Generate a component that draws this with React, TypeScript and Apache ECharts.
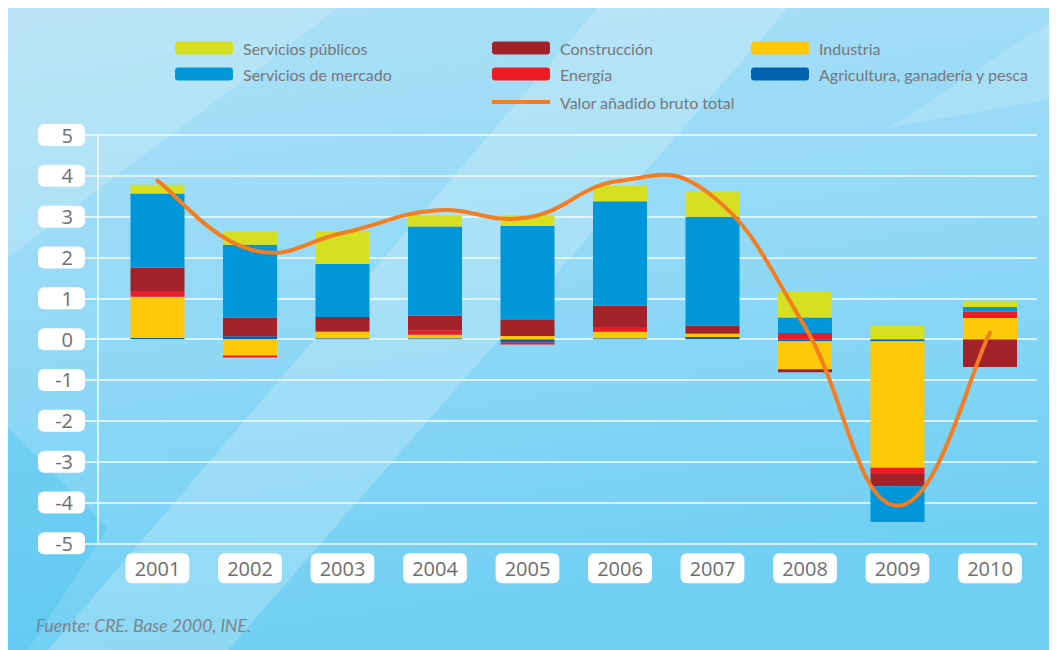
import React, { useEffect, useRef } from 'react';
import * as echarts from 'echarts';

// ---- Data ----
const years = ['2001', '2002', '2003', '2004', '2005', '2006', '2007', '2008', '2009', '2010'];
const agricultura = [0.03, 0.07, 0.02, 0.02, -0.08, 0.02, 0.05, -0.05, -0.05, -0.02];
const industria = [1.01, -0.4, 0.16, 0.09, 0.08, 0.16, 0.08, -0.69, -3.1, 0.52];
const energia = [0.14, -0.05, 0.02, 0.11, -0.05, 0.12, 0.01, 0.15, -0.15, 0.15];
const construccion = [0.57, 0.46, 0.34, 0.36, 0.39, 0.52, 0.19, -0.07, -0.3, -0.66];
const serviciosMercado = [1.82, 1.78, 1.3, 2.18, 2.3, 2.56, 2.67, 0.38, -0.88, 0.12];
const serviciosPublicos = [0.21, 0.34, 0.81, 0.27, 0.27, 0.37, 0.62, 0.65, 0.32, 0.15];
const valorAnadido = [3.88, 2.2, 2.6, 3.15, 2.98, 3.88, 3.5, 0.3, -4.08, 0.16];
const yMin = -5;
const yMax = 5;
const yInterval = 1;

const NAMES = {
  pub: 'Servicios públicos',
  mer: 'Servicios de mercado',
  con: 'Construcción',
  ene: 'Energía',
  ind: 'Industria',
  agr: 'Agricultura, ganadería y pesca',
  vab: 'Valor añadido bruto total',
};

const COLORS = {
  pub: '#d6df21',
  mer: '#0096d8',
  con: '#a32129',
  ene: '#ed1c24',
  ind: '#fec80b',
  agr: '#0063b1',
  vab: '#f47d20',
};

const GREY = '#76777b';
const GRIDLINE = '#f3fbfe';
const TENSION = 0.22;

export default function App() {
  const ref = useRef<HTMLDivElement>(null);

  useEffect(() => {
    document.documentElement.style.overflow = 'hidden';
    document.body.style.overflow = 'hidden';
    if (!ref.current) return;
    const chart = echarts.init(ref.current, undefined, { renderer: 'svg' });

    const legendText = {
      color: GREY,
      fontSize: 16,
      fontFamily: 'Lato',
      padding: [0, 0, 0, 5],
    };
    const legendBase = {
      orient: 'vertical',
      padding: 0,
      itemWidth: 58,
      itemHeight: 13,
      itemGap: 10,
      selectedMode: false,
      textStyle: legendText,
    };
    const rr = (n: string) => ({ name: n, icon: 'roundRect' });

    const barSeries = (name: string, data: number[], color: string) => ({
      type: 'bar',
      name,
      data,
      stack: 'total',
      xAxisIndex: 1,
      yAxisIndex: 1,
      barWidth: 54,
      itemStyle: { color },
      emphasis: { disabled: true },
      z: 3,
    });

    const n = valorAnadido.length;
    const lineRender = (params: any, api: any) => {
      const i = params.dataIndex;
      if (i >= n - 1) return null;
      const pt = (k: number) => {
        const kk = Math.max(0, Math.min(n - 1, k));
        return api.coord([kk, valorAnadido[kk]]);
      };
      const p0 = pt(i - 1);
      const p1 = pt(i);
      const p2 = pt(i + 1);
      const p3 = pt(i + 2);
      return {
        type: 'bezierCurve',
        shape: {
          x1: p1[0],
          y1: p1[1],
          cpx1: p1[0] + (p2[0] - p0[0]) * TENSION,
          cpy1: p1[1] + (p2[1] - p0[1]) * TENSION,
          cpx2: p2[0] - (p3[0] - p1[0]) * TENSION,
          cpy2: p2[1] - (p3[1] - p1[1]) * TENSION,
          x2: p2[0],
          y2: p2[1],
        },
        style: { stroke: COLORS.vab, lineWidth: 4, fill: 'none', lineCap: 'round' },
        silent: true,
      };
    };

    const option = {
      animation: false,
      backgroundColor: new echarts.graphic.LinearGradient(0, 0, 0.25, 1, [
        { offset: 0, color: '#aee0f7' },
        { offset: 0.5, color: '#92d9f6' },
        { offset: 1, color: '#70cff3' },
      ]),
      graphic: [
        {
          type: 'polygon',
          silent: true,
          z: -10,
          shape: { points: [[0, 0], [330, 0], [0, 250]] },
          style: { fill: 'rgba(255,255,255,0.18)' },
        },
        {
          type: 'polygon',
          silent: true,
          z: -10,
          shape: { points: [[40, 642], [220, 642], [780, 0], [590, 0]] },
          style: { fill: 'rgba(255,255,255,0.2)' },
        },
        {
          type: 'polygon',
          silent: true,
          z: -10,
          shape: { points: [[0, 420], [0, 642], [20, 642], [100, 520]] },
          style: { fill: 'rgba(60,190,240,0.3)' },
        },
        {
          type: 'polygon',
          silent: true,
          z: -10,
          shape: { points: [[880, 120], [1049, 10], [1049, 90]] },
          style: { fill: 'rgba(255,255,255,0.15)' },
        },
        {
          type: 'text',
          left: 28,
          top: 608,
          silent: true,
          style: {
            text: 'Fuente: CRE. Base 2000, INE.',
            fill: '#818388',
            fontSize: 17.5,
            fontStyle: 'italic',
            fontFamily: 'Lato',
          },
        },
      ],
      legend: [
        { ...legendBase, left: 167, top: 32, data: [rr(NAMES.pub), rr(NAMES.mer)] },
        { ...legendBase, left: 484, top: 32, data: [rr(NAMES.con), rr(NAMES.ene)] },
        {
          ...legendBase,
          left: 484,
          top: 86,
          itemHeight: 4,
          data: [{ name: NAMES.vab, icon: 'rect' }],
        },
        { ...legendBase, left: 743, top: 32, data: [rr(NAMES.ind), rr(NAMES.agr)] },
      ],
      grid: [
        { left: 77, right: 20, top: 127, bottom: 106.7 },
        { left: 103.25, right: 20.75, top: 127, bottom: 106.7 },
      ],
      xAxis: [
        { gridIndex: 0, type: 'value', min: 0, max: 1, show: false },
        {
          gridIndex: 1,
          type: 'category',
          data: years,
          axisLine: { show: false },
          axisTick: { show: false },
          splitLine: { show: false },
          axisLabel: {
            interval: 0,
            margin: 10,
            color: '#6d6e71',
            fontSize: 20,
            fontFamily: 'Open Sans',
            backgroundColor: '#ffffff',
            borderRadius: 6,
            padding: [5, 9, 5, 9],
          },
        },
      ],
      yAxis: [
        {
          gridIndex: 0,
          type: 'value',
          min: yMin,
          max: yMax,
          interval: yInterval,
          axisLine: { show: false },
          axisTick: { show: false },
          splitLine: { show: true, lineStyle: { color: GRIDLINE, width: 1.5 } },
          axisLabel: {
            margin: 0,
            color: '#6d6e71',
            fontSize: 20,
            fontFamily: 'Open Sans',
            backgroundColor: '#ffffff',
            borderRadius: 6,
            padding: [1, 12, 1, 6],
            width: 29,
            align: 'right',
          },
        },
        {
          gridIndex: 1,
          type: 'value',
          min: yMin,
          max: yMax,
          interval: yInterval,
          offset: 13.25,
          axisLine: { show: true, lineStyle: { color: GRIDLINE, width: 1.5 } },
          axisTick: { show: false },
          axisLabel: { show: false },
          splitLine: { show: false },
        },
      ],
      series: [
        barSeries(NAMES.agr, agricultura, COLORS.agr),
        barSeries(NAMES.ind, industria, COLORS.ind),
        barSeries(NAMES.ene, energia, COLORS.ene),
        barSeries(NAMES.con, construccion, COLORS.con),
        barSeries(NAMES.mer, serviciosMercado, COLORS.mer),
        barSeries(NAMES.pub, serviciosPublicos, COLORS.pub),
        {
          type: 'custom',
          name: NAMES.vab,
          coordinateSystem: 'cartesian2d',
          xAxisIndex: 1,
          yAxisIndex: 1,
          data: valorAnadido.map((v, i) => [i, v]),
          encode: { x: 0, y: 1 },
          renderItem: lineRender,
          itemStyle: { color: COLORS.vab },
          clip: false,
          z: 5,
        },
      ],
    };

    chart.setOption(option as any);
    return () => chart.dispose();
  }, []);

  return <div ref={ref} style={{ width: 1049, height: 642 }} />;
}
